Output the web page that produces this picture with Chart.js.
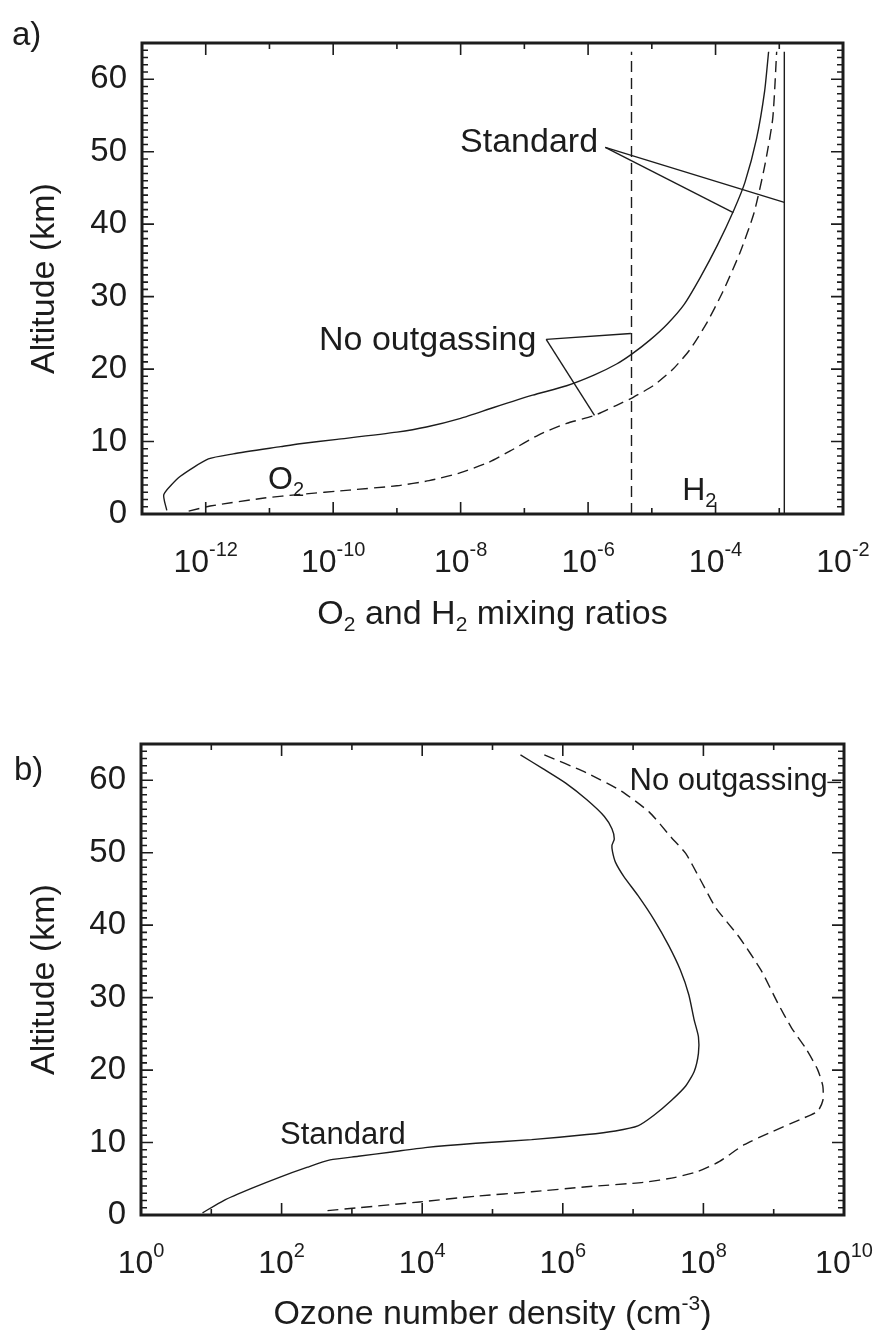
<!DOCTYPE html>
<html>
<head>
<meta charset="utf-8">
<title>O2, H2 and ozone profiles</title>
<script src="https://cdn.jsdelivr.net/npm/chart.js@4.4.1/dist/chart.umd.min.js"></script>
<style>
    html, body { margin: 0; padding: 0; background: #fff; }
    #wrap { position: relative; width: 877px; height: 1330px; }
    .panel { position: absolute; left: 0; }
    #top { top: 0; }
    #bot { top: 650px; }
</style>
</head>
<body>
<div id="wrap">
    <div class="panel" id="top"><canvas id="mixing" width="877" height="650"></canvas></div>
    <div class="panel" id="bot"><canvas id="ozone" width="877" height="680"></canvas></div>
</div>
<script>
const INK = "#1c1c1c";
const FONT = '"Liberation Sans", Arial, Helvetica, sans-serif';

// panel a) O2 mixing ratio profiles (altitude in km)
const altO2Std = [0.5, 2.7, 5.2, 7.6, 8.3, 9.3, 9.7, 10.3, 11.3, 12.0, 13.2, 14.7, 16.4, 17.7, 19.2, 20.7, 22.1, 24.0, 26.2, 28.9, 32.7, 37.1, 42.0, 45.8, 51.8, 58.4, 63.8];
const o2Std = [2.45e-13, 2.2e-13, 4.0e-13, 1.1e-12, 2.7e-12, 1.5e-11, 3.0e-11, 1.15e-10, 1.0e-9, 2.9e-9, 1.0e-8, 3.3e-8, 1.35e-7, 4.6e-7, 1.26e-6, 2.8e-6, 4.9e-6, 9.3e-6, 1.74e-5, 3.2e-5, 5.8e-5, 1.07e-4, 1.95e-4, 2.9e-4, 4.4e-4, 5.9e-4, 6.8e-4];
const altO2NoOut = [0.4, 1.1, 2.2, 2.7, 3.3, 3.9, 4.6, 5.7, 7.1, 8.7, 10.9, 12.5, 13.6, 15.0, 16.1, 17.7, 19.9, 22.6, 26.2, 30.6, 36.0, 41.5, 48.0, 54.6, 63.8];
const o2NoOut = [5.4e-13, 1.17e-12, 8.3e-12, 3.0e-11, 1.78e-10, 1.0e-9, 3.2e-9, 1.0e-8, 2.7e-8, 6.0e-8, 1.66e-7, 4.6e-7, 1.26e-6, 2.8e-6, 5.1e-6, 1.05e-5, 2.1e-5, 3.9e-5, 7.1e-5, 1.29e-4, 2.4e-4, 4.0e-4, 5.9e-4, 7.9e-4, 9.1e-4];

// H2 is constant with height
const altH2 = [0, 63.8];
const h2Std = [1.2e-3, 1.2e-3];
const h2NoOut = [4.8e-6, 4.8e-6];

// panel b) ozone number density (cm^-3)
const altO3Std = [0.3, 2.0, 3.7, 5.2, 6.6, 7.6, 8.1, 8.7, 9.3, 9.9, 10.4, 11.1, 11.6, 12.3, 13.8, 15.8, 17.8, 19.8, 22.3, 24.6, 26.9, 30.4, 33.8, 37.2, 40.7, 44.1, 46.7, 48.7, 50.1, 51.0, 51.9, 53.3, 55.0, 57.3, 59.6, 61.6, 63.5];
const o3Std = [7.5, 15, 38, 93, 234, 490, 1230, 3700, 1.1e4, 5.8e4, 3.6e5, 2.2e6, 5.6e6, 1.17e7, 2.0e7, 3.5e7, 5.6e7, 7.4e7, 8.5e7, 8.5e7, 7.4e7, 6.2e7, 4.7e7, 3.2e7, 2.0e7, 1.17e7, 7.4e6, 5.6e6, 5.1e6, 5.0e6, 5.4e6, 5.0e6, 3.9e6, 2.2e6, 1.1e6, 5.2e5, 2.5e5];
const altO3NoOut = [0.6, 1.0, 1.8, 2.6, 3.2, 3.9, 4.5, 5.2, 6.0, 7.4, 9.7, 11.5, 13.2, 14.3, 15.8, 17.8, 20.1, 22.9, 25.8, 29.2, 33.8, 38.4, 42.4, 46.4, 49.9, 52.1, 55.6, 58.5, 61.0, 63.6];
const o3NoOut = [450, 1230, 9100, 5.8e4, 3.6e5, 2.2e6, 1.4e7, 4.0e7, 8.3e7, 1.7e8, 3.8e8, 9.5e8, 2.4e9, 4.2e9, 5.0e9, 5.0e9, 4.2e9, 2.9e9, 1.8e9, 1.15e9, 6.6e8, 3.2e8, 1.5e8, 8.9e7, 5.6e7, 3.5e7, 1.7e7, 6.8e6, 2.2e6, 5.2e5];

// ticks (x labels are "10" with these exponents)
const altTicks = [0, 10, 20, 30, 40, 50, 60];
const altLabels = ["0", "10", "20", "30", "40", "50", "60"];
const mixTicks = [1e-12, 1e-10, 1e-8, 1e-6, 1e-4, 1e-2];
const mixExp = ["-12", "-10", "-8", "-6", "-4", "-2"];
const mixMinor = [1e-13, 1e-11, 1e-9, 1e-7, 1e-5, 1e-3];
const o3Ticks = [1e0, 1e2, 1e4, 1e6, 1e8, 1e10];
const o3Exp = ["0", "2", "4", "6", "8", "10"];
const o3Minor = [1e1, 1e3, 1e5, 1e7, 1e9];

// leader lines from the labels to the curves, [x, altitude]
const leadersA = [
    [[1.86e-6, 50.6], [1.2e-3, 43.0]],
    [[1.86e-6, 50.6], [1.9e-4, 41.6]],
    [[2.2e-7, 24.1], [4.7e-6, 24.9]],
    [[2.2e-7, 24.1], [1.26e-6, 13.6]],
];
const leadersB = [
    [[5.8e9, 59.7], [9.1e9, 59.7]],
];

function pts(xs, ys) {
    return xs.map((x, i) => ({ x, y: ys[i] }));
}

function line(data, dashed, tension) {
    return {
        data,
        showLine: true,
        borderColor: INK,
        borderWidth: 1.4,
        borderDash: dashed ? [11, 6] : [],
        tension: tension || 0,
        pointRadius: 0,
        fill: false,
    };
}

function leaderSets(list) {
    return list.map((seg) => line(seg.map(([x, y]) => ({ x, y })), false));
}

function drawRich(ctx, parts, x, y, size, align, raise) {
    const segs = parts.map((p) => {
        const fs = p.sub || p.sup ? Math.round(size * 0.62) : size;
        ctx.font = `${fs}px ${FONT}`;
        const dy = p.sub ? size * 0.2 : p.sup ? -size * (raise || 0.42) : 0;
        return { t: p.t, fs, dy, w: ctx.measureText(p.t).width };
    });
    const total = segs.reduce((s, p) => s + p.w, 0);
    let cx = align === "center" ? x - total / 2 : x;
    ctx.textAlign = "left";
    ctx.textBaseline = "alphabetic";
    for (const s of segs) {
        ctx.font = `${s.fs}px ${FONT}`;
        ctx.fillText(s.t, cx, y + s.dy);
        cx += s.w;
    }
}

// box with inward ticks on all four sides, IDL style
const frame = {
    id: "frame",
    afterDraw(chart, args, opts) {
        const { ctx, chartArea: a } = chart;
        const { x, y } = chart.scales;
        ctx.save();
        ctx.strokeStyle = INK;
        ctx.lineWidth = 1.6;
        ctx.beginPath();
        const xt = (v, len) => {
            const px = x.getPixelForValue(v);
            ctx.moveTo(px, a.bottom); ctx.lineTo(px, a.bottom - len);
            ctx.moveTo(px, a.top); ctx.lineTo(px, a.top + len);
        };
        const yt = (v, len) => {
            const py = y.getPixelForValue(v);
            ctx.moveTo(a.left, py); ctx.lineTo(a.left + len, py);
            ctx.moveTo(a.right, py); ctx.lineTo(a.right - len, py);
        };
        x.ticks.forEach((t) => xt(t.value, 12));
        opts.xMinor.forEach((v) => xt(v, 6));
        for (let k = 1; k < 65; k++) yt(k, k % 10 === 0 ? 12 : 6);
        ctx.stroke();
        ctx.lineWidth = 3;
        ctx.strokeRect(a.left, a.top, a.right - a.left, a.bottom - a.top);
        ctx.restore();
    },
};

// x tick labels with exponents, in-plot labels, x title, panel letter
const notes = {
    id: "notes",
    afterDraw(chart, args, opts) {
        const { ctx, chartArea: a } = chart;
        const { x, y } = chart.scales;
        ctx.save();
        ctx.fillStyle = INK;
        x.ticks.forEach((t, i) => {
            drawRich(ctx, [{ t: "10" }, { t: opts.exp[i], sup: true }], x.getPixelForValue(t.value), a.bottom + 58, 32, "center", 0.5);
        });
        for (const n of opts.items) {
            drawRich(ctx, n.parts, x.getPixelForValue(n.x), y.getPixelForValue(n.y), n.size, "left");
        }
        drawRich(ctx, opts.title, (a.left + a.right) / 2, a.bottom + opts.titleGap, 34, "center");
        drawRich(ctx, [{ t: opts.panel }], opts.panelX, opts.panelY, 33, "left");
        ctx.restore();
    },
};

function scalesFor(cfg) {
    return {
        x: {
            type: "logarithmic",
            min: cfg.min,
            max: cfg.max,
            grid: { display: false, drawTicks: false },
            border: { display: false },
            afterBuildTicks: (s) => { s.ticks = cfg.ticks.map((v) => ({ value: v })); },
            afterFit: (s) => { s.height = cfg.height; s.paddingLeft = 0; s.paddingRight = 0; },
            ticks: { display: false, autoSkip: false, maxRotation: 0 },
        },
        y: {
            type: "linear",
            min: 0,
            max: 65,
            grid: { display: false, drawTicks: false },
            border: { display: false },
            afterBuildTicks: (s) => { s.ticks = altTicks.map((v) => ({ value: v })); },
            afterFit: (s) => { s.width = cfg.yWidth; },
            ticks: {
                padding: 15,
                color: INK,
                font: { family: FONT, size: 33 },
                callback: (v, i) => altLabels[i],
            },
            title: {
                display: true,
                text: "Altitude (km)",
                color: INK,
                font: { family: FONT, size: 34, lineHeight: 1.2 },
                padding: { top: 24, bottom: 0 },
            },
        },
    };
}

Chart.defaults.animation = false;

new Chart(document.getElementById("mixing"), {
    type: "scatter",
    data: {
        datasets: [
            line(pts(o2Std, altO2Std), false, 0.2),
            line(pts(o2NoOut, altO2NoOut), true, 0.2),
            line(pts(h2Std, altH2), false),
            line(pts(h2NoOut, altH2), true),
            ...leaderSets(leadersA),
        ],
    },
    options: {
        responsive: false,
        devicePixelRatio: 1,
        events: [],
        layout: { padding: { top: 43, right: 34, left: 0, bottom: 0 } },
        scales: scalesFor({ min: 1e-13, max: 1e-2, ticks: mixTicks, height: 136, yWidth: 142 }),
        plugins: {
            legend: { display: false },
            tooltip: { enabled: false },
            frame: { xMinor: mixMinor },
            notes: {
                exp: mixExp,
                items: [
                    { parts: [{ t: "Standard" }], x: 9.8e-9, y: 50.0, size: 34 },
                    { parts: [{ t: "No outgassing" }], x: 6.0e-11, y: 22.6, size: 34 },
                    { parts: [{ t: "O" }, { t: "2", sub: true }], x: 9.5e-12, y: 3.4, size: 32 },
                    { parts: [{ t: "H" }, { t: "2", sub: true }], x: 3.0e-5, y: 1.9, size: 32 },
                ],
                title: [{ t: "O" }, { t: "2", sub: true }, { t: " and H" }, { t: "2", sub: true }, { t: " mixing ratios" }],
                titleGap: 110,
                panel: "a)",
                panelX: 12,
                panelY: 45,
            },
        },
    },
    plugins: [frame, notes],
});

new Chart(document.getElementById("ozone"), {
    type: "scatter",
    data: {
        datasets: [
            line(pts(o3Std, altO3Std), false, 0.2),
            line(pts(o3NoOut, altO3NoOut), true, 0.2),
            ...leaderSets(leadersB),
        ],
    },
    options: {
        responsive: false,
        devicePixelRatio: 1,
        events: [],
        layout: { padding: { top: 94, right: 33, left: 0, bottom: 0 } },
        scales: scalesFor({ min: 1e0, max: 1e10, ticks: o3Ticks, height: 115, yWidth: 141 }),
        plugins: {
            legend: { display: false },
            tooltip: { enabled: false },
            frame: { xMinor: o3Minor },
            notes: {
                exp: o3Exp,
                items: [
                    { parts: [{ t: "Standard" }], x: 95, y: 9.8, size: 31 },
                    { parts: [{ t: "No outgassing" }], x: 8.9e6, y: 58.6, size: 31 },
                ],
                title: [{ t: "Ozone number density (cm" }, { t: "-3", sup: true }, { t: ")" }],
                titleGap: 109,
                panel: "b)",
                panelX: 14,
                panelY: 130,
            },
        },
    },
    plugins: [frame, notes],
});
</script>
</body>
</html>
